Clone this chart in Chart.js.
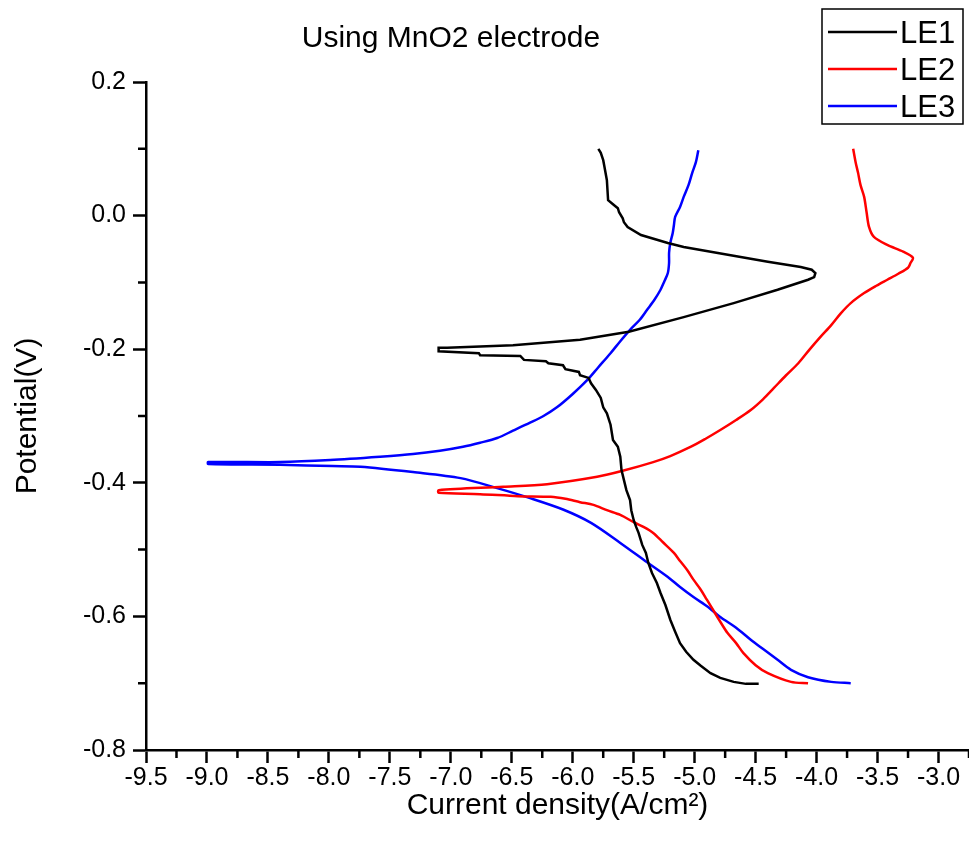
<!DOCTYPE html>
<html>
<head>
<meta charset="utf-8">
<title>Using MnO2 electrode</title>
<script src="https://cdn.jsdelivr.net/npm/chart.js@4.4.1/dist/chart.umd.min.js"></script>
<style>
  html, body { margin: 0; padding: 0; background: #fff; }
  #wrap { width: 969px; height: 854px; }
</style>
</head>
<body>
<div id="wrap"><canvas id="tafel-chart"></canvas></div>
<script>
// Tafel curves, log current density vs potential, one path per electrolyte
const seriesNames = ["LE1", "LE2", "LE3"];
const seriesColors = ["#000000", "#ff0000", "#0000ff"];

const le1Current = [
  -4.475, -4.58, -4.68, -4.79, -4.87, -4.95, -5.01, -5.07, -5.12, -5.16, -5.20, -5.24,
  -5.28, -5.31, -5.35, -5.38, -5.40, -5.43, -5.46, -5.48, -5.50, -5.52, -5.53, -5.56,
  -5.58, -5.60, -5.61, -5.63, -5.67, -5.69, -5.72, -5.75, -5.77, -5.81, -5.85, -5.87,
  -5.94, -5.95, -6.06, -6.08, -6.20, -6.22, -6.40, -6.43, -6.76, -6.77, -7.10, -7.10,
  -7.03, -6.49, -5.94, -5.54, -5.09, -4.68, -4.32, -4.07, -4.02, -4.01, -4.04, -4.13,
  -4.40, -4.81, -5.09, -5.22, -5.44, -5.55, -5.58, -5.59, -5.62, -5.63, -5.67, -5.71,
  -5.72, -5.74, -5.75, -5.77, -5.79
];
const le1Potential = [
  -0.701, -0.701, -0.698, -0.692, -0.685, -0.674, -0.665, -0.653, -0.640, -0.623, -0.605, -0.583,
  -0.565, -0.550, -0.535, -0.520, -0.505, -0.493, -0.475, -0.466, -0.456, -0.441, -0.426, -0.411,
  -0.396, -0.381, -0.361, -0.346, -0.336, -0.313, -0.296, -0.287, -0.273, -0.261, -0.251, -0.243,
  -0.239, -0.234, -0.230, -0.224, -0.221, -0.218, -0.216, -0.210, -0.209, -0.206, -0.203, -0.198,
  -0.198, -0.194, -0.186, -0.174, -0.152, -0.131, -0.111, -0.096, -0.092, -0.086, -0.081, -0.077,
  -0.069, -0.056, -0.047, -0.041, -0.029, -0.017, -0.010, -0.004, 0.005, 0.011, 0.017, 0.023,
  0.053, 0.073, 0.083, 0.094, 0.100
];

const le2Current = [
  -4.07, -4.21, -4.40, -4.50, -4.60, -4.66, -4.73, -4.79, -4.85, -4.90, -4.95, -5.01,
  -5.06, -5.12, -5.17, -5.26, -5.34, -5.42, -5.50, -5.61, -5.72, -5.83, -5.94, -6.06,
  -6.18, -6.45, -6.76, -7.10, -7.10, -6.57, -6.21, -5.80, -5.59, -5.34, -5.20, -5.03,
  -4.91, -4.79, -4.66, -4.54, -4.44, -4.35, -4.25, -4.15, -4.06, -3.97, -3.88, -3.80,
  -3.72, -3.61, -3.51, -3.42, -3.33, -3.25, -3.23, -3.21, -3.29, -3.42, -3.53, -3.57,
  -3.59, -3.61, -3.64, -3.66, -3.68, -3.70
];
const le2Potential = [
  -0.700, -0.698, -0.685, -0.673, -0.655, -0.640, -0.625, -0.608, -0.590, -0.575, -0.560, -0.545,
  -0.531, -0.517, -0.505, -0.489, -0.475, -0.466, -0.459, -0.448, -0.441, -0.433, -0.429, -0.424,
  -0.421, -0.420, -0.417, -0.415, -0.411, -0.406, -0.402, -0.391, -0.382, -0.369, -0.360, -0.346,
  -0.334, -0.321, -0.306, -0.291, -0.275, -0.258, -0.239, -0.221, -0.201, -0.182, -0.164, -0.146,
  -0.131, -0.116, -0.105, -0.096, -0.087, -0.078, -0.071, -0.063, -0.054, -0.044, -0.032, -0.017,
  0.005, 0.028, 0.046, 0.064, 0.080, 0.100
];

const le3Current = [
  -3.72, -3.88, -4.07, -4.21, -4.32, -4.43, -4.54, -4.66, -4.79, -4.89, -5.01, -5.12,
  -5.22, -5.39, -5.61, -5.85, -6.08, -6.35, -6.62, -6.92, -7.31, -7.74, -7.97, -8.40,
  -8.99, -8.99, -8.40, -7.99, -7.58, -7.31, -7.09, -6.90, -6.76, -6.62, -6.49, -6.35,
  -6.24, -6.13, -6.00, -5.88, -5.79, -5.69, -5.61, -5.53, -5.45, -5.39, -5.33, -5.28,
  -5.25, -5.22, -5.21, -5.21, -5.20, -5.18, -5.17, -5.16, -5.12, -5.09, -5.05, -5.02,
  -4.99, -4.97
];
const le3Potential = [
  -0.700, -0.698, -0.691, -0.680, -0.665, -0.650, -0.635, -0.617, -0.601, -0.586, -0.571, -0.556,
  -0.541, -0.519, -0.490, -0.460, -0.440, -0.423, -0.408, -0.393, -0.384, -0.376, -0.375, -0.373,
  -0.372, -0.369, -0.369, -0.366, -0.361, -0.357, -0.352, -0.346, -0.340, -0.333, -0.322, -0.310,
  -0.300, -0.287, -0.267, -0.246, -0.227, -0.206, -0.188, -0.171, -0.156, -0.141, -0.126, -0.111,
  -0.099, -0.086, -0.071, -0.056, -0.041, -0.026, -0.014, -0.002, 0.013, 0.028, 0.046, 0.064,
  0.080, 0.098
];

const xTicks = [-9.5, -9.0, -8.5, -8.0, -7.5, -7.0, -6.5, -6.0, -5.5, -5.0, -4.5, -4.0, -3.5, -3.0];
const yTicks = [0.2, 0.0, -0.2, -0.4, -0.6, -0.8];
const xMinor = [-9.25, -8.75, -8.25, -7.75, -7.25, -6.75, -6.25, -5.75, -5.25, -4.75, -4.25, -3.75, -3.25, -2.75];
const yMinor = [0.1, -0.1, -0.3, -0.5, -0.7];

const chartTitle = "Using MnO2 electrode";
const xTitle = "Current density(A/cm²)";
const yTitle = "Potential(V)";

const FONT = "'Liberation Sans', Arial, sans-serif";

function toPoints(xs, ys) {
  return xs.map((x, i) => ({ x: x, y: ys[i] }));
}

const currents = [le1Current, le2Current, le3Current];
const potentials = [le1Potential, le2Potential, le3Potential];

const datasets = seriesNames.map((name, i) => ({
  label: name,
  data: toPoints(currents[i], potentials[i]),
  showLine: true,
  borderColor: seriesColors[i],
  backgroundColor: seriesColors[i],
  borderWidth: 2.5,
  pointRadius: 0,
  tension: i === 0 ? 0 : 0.3,
}));

// short ticks between the labelled ones
const minorTicks = {
  id: "minorTicks",
  afterDraw(chart) {
    const ctx = chart.ctx;
    const xs = chart.scales.x;
    const ys = chart.scales.y;
    ctx.save();
    ctx.strokeStyle = "#000";
    ctx.lineWidth = 2.5;
    ctx.beginPath();
    xMinor.forEach((v) => {
      const px = xs.getPixelForValue(v);
      ctx.moveTo(px, ys.bottom);
      ctx.lineTo(px, ys.bottom + 8);
    });
    yMinor.forEach((v) => {
      const py = ys.getPixelForValue(v);
      ctx.moveTo(xs.left, py);
      ctx.lineTo(xs.left - 8, py);
    });
    ctx.stroke();
    ctx.restore();
  },
};

// heading and boxed legend in the top strip
const headerAndLegend = {
  id: "headerAndLegend",
  afterDraw(chart) {
    const ctx = chart.ctx;
    ctx.save();
    ctx.fillStyle = "#000";
    ctx.font = "30px " + FONT;
    ctx.textAlign = "center";
    ctx.textBaseline = "alphabetic";
    ctx.fillText(chartTitle, 451, 47);

    ctx.strokeStyle = "#000";
    ctx.lineWidth = 1.5;
    ctx.strokeRect(822, 9, 141, 115);

    const rowY = [32, 69, 106];
    ctx.textAlign = "left";
    ctx.font = "31px " + FONT;
    seriesNames.forEach((name, i) => {
      ctx.strokeStyle = seriesColors[i];
      ctx.lineWidth = 2.5;
      ctx.beginPath();
      ctx.moveTo(828, rowY[i]);
      ctx.lineTo(897, rowY[i]);
      ctx.stroke();
      ctx.fillText(name, 900, rowY[i] + 11);
    });
    ctx.restore();
  },
};

new Chart(document.getElementById("tafel-chart"), {
  type: "scatter",
  data: { datasets: datasets },
  options: {
    responsive: true,
    maintainAspectRatio: false,
    animation: false,
    layout: { padding: { top: 82, left: 0, right: 0, bottom: 0 } },
    plugins: {
      legend: { display: false },
      title: { display: false },
      tooltip: { enabled: false },
    },
    scales: {
      x: {
        type: "linear",
        min: -9.5,
        max: -2.75,
        afterBuildTicks(scale) {
          scale.ticks = xTicks.map((v) => ({ value: v }));
        },
        afterFit(scale) {
          scale.height = 104;
        },
        border: { display: true, color: "#000", width: 2.5 },
        grid: {
          drawOnChartArea: false,
          drawTicks: true,
          tickLength: 13,
          tickWidth: 2.5,
          tickColor: "#000",
        },
        ticks: {
          color: "#000",
          font: { family: FONT, size: 25 },
          padding: 0,
          maxRotation: 0,
          autoSkip: false,
          callback: (v) => v.toFixed(1),
        },
        title: {
          display: true,
          text: xTitle,
          color: "#000",
          font: { family: FONT, size: 30 },
          padding: { top: 0, bottom: 30 },
        },
      },
      y: {
        type: "linear",
        min: -0.8,
        max: 0.2,
        afterBuildTicks(scale) {
          scale.ticks = yTicks.map((v) => ({ value: v }));
        },
        afterFit(scale) {
          scale.width = 146;
        },
        border: { display: true, color: "#000", width: 2.5 },
        grid: {
          drawOnChartArea: false,
          drawTicks: true,
          tickLength: 13,
          tickWidth: 2.5,
          tickColor: "#000",
        },
        ticks: {
          color: "#000",
          font: { family: FONT, size: 25 },
          padding: 7,
          autoSkip: false,
          callback: (v) => v.toFixed(1),
        },
        title: {
          display: true,
          text: yTitle,
          color: "#000",
          font: { family: FONT, size: 30 },
          padding: { top: 10, bottom: 0 },
        },
      },
    },
  },
  plugins: [minorTicks, headerAndLegend],
});
</script>
</body>
</html>
